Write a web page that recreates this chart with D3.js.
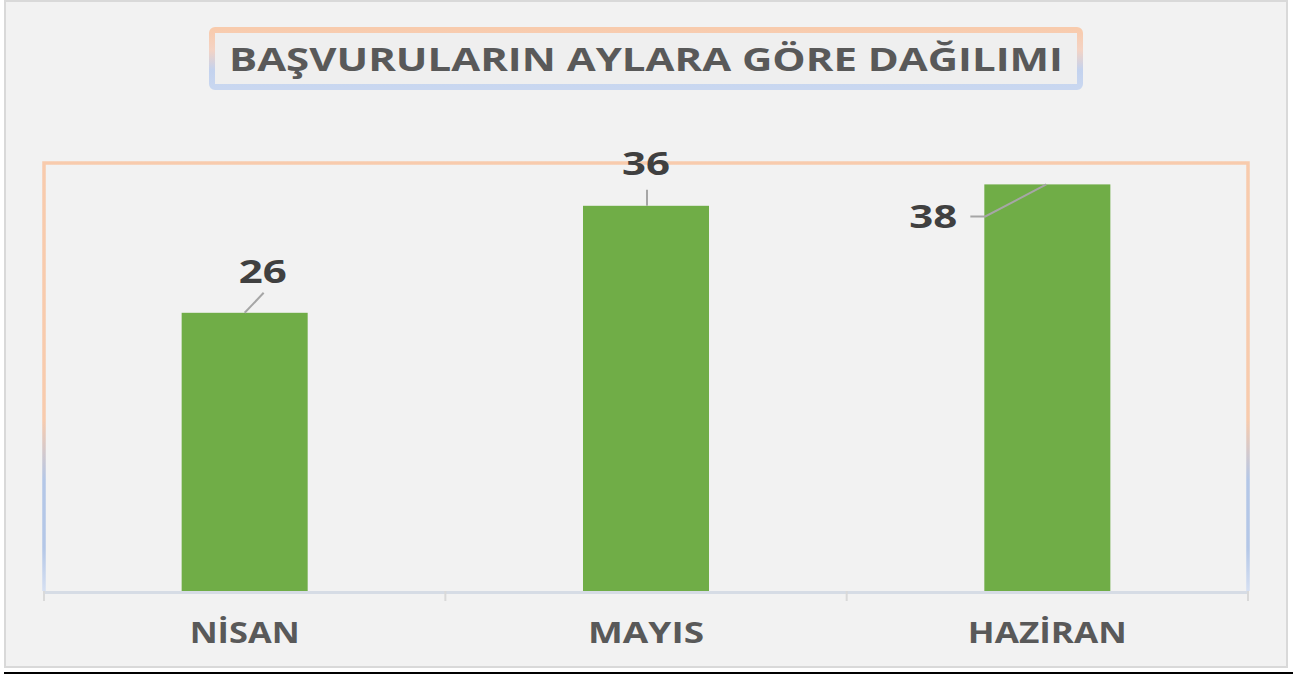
<!DOCTYPE html>
<html>
<head>
<meta charset="utf-8">
<script src="https://cdn.jsdelivr.net/npm/d3@7"></script>
<style>
  body { margin: 0; background: #ffffff; }
  text { font-family: "Open Sans", "DejaVu Sans", sans-serif; font-weight: bold; }
</style>
</head>
<body>
<div id="chart"></div>
<script>
// data
var months = ["NİSAN", "MAYIS", "HAZİRAN"]
var counts = [26, 36, 38]
var yMax = 40
var title = "BAŞVURULARIN AYLARA GÖRE DAĞILIMI"

// label placement (offset from bar top centre)
var labelDx = [18, 0, -114]
var labelDy = [-30, -31, 44]

var W = 1293, H = 674
var plot = {left: 44, right: 1248, top: 163, bottom: 591}

var svg = d3.select("#chart").append("svg")
    .attr("width", W)
    .attr("height", H)

var defs = svg.append("defs")
var g1 = defs.append("linearGradient").attr("id", "plotGrad")
    .attr("gradientUnits", "userSpaceOnUse")
    .attr("x1", 0).attr("x2", 0).attr("y1", plot.top).attr("y2", plot.bottom)
g1.append("stop").attr("offset", "0").attr("stop-color", "#f8cbad")
g1.append("stop").attr("offset", "0.6").attr("stop-color", "#f8cbad")
g1.append("stop").attr("offset", "0.74").attr("stop-color", "#b4c7e7")
g1.append("stop").attr("offset", "0.9").attr("stop-color", "#b4c7e7")
g1.append("stop").attr("offset", "1").attr("stop-color", "#d6e0f2")

var g2 = defs.append("linearGradient").attr("id", "titleGrad")
    .attr("x1", 0).attr("x2", 0).attr("y1", 0).attr("y2", 1)
g2.append("stop").attr("offset", "0").attr("stop-color", "#f8cbad")
g2.append("stop").attr("offset", "0.35").attr("stop-color", "#f4d3c4")
g2.append("stop").attr("offset", "0.7").attr("stop-color", "#c3d2ee")
g2.append("stop").attr("offset", "1").attr("stop-color", "#c9d7f0")

// chart background
svg.append("rect")
    .attr("x", 5).attr("y", 1)
    .attr("width", 1282).attr("height", 666)
    .attr("fill", "#f2f2f2")
    .attr("stroke", "#d9d9d9")
    .attr("stroke-width", 2)

svg.append("line")
    .attr("x1", 4).attr("x2", W)
    .attr("y1", 673).attr("y2", 673)
    .attr("stroke", "#000").attr("stroke-width", 2)

// title box
svg.append("rect")
    .attr("x", 212).attr("y", 30)
    .attr("width", 868).attr("height", 57)
    .attr("rx", 3)
    .attr("fill", "#efefef")
    .attr("stroke", "url(#titleGrad)")
    .attr("stroke-width", 6)

svg.append("text")
    .attr("x", 646).attr("y", 71)
    .attr("text-anchor", "middle")
    .attr("textLength", 834)
    .attr("lengthAdjust", "spacingAndGlyphs")
    .style("font-size", "32px")
    .attr("fill", "#595959")
    .text(title)

// scales
var x = d3.scaleBand()
    .domain(months)
    .range([plot.left, plot.right])
    .paddingInner(0.686)
    .paddingOuter(0.343)

var y = d3.scaleLinear()
    .domain([0, yMax])
    .range([plot.bottom, plot.top])

// plot area frame (left, top, right)
svg.append("path")
    .attr("d", "M" + plot.left + "," + plot.bottom + "V" + plot.top + "H" + plot.right + "V" + plot.bottom)
    .attr("fill", "none")
    .attr("stroke", "url(#plotGrad)")
    .attr("stroke-width", 3.5)

// bars
svg.selectAll(".bar").data(counts)
    .enter().append("rect")
    .attr("class", "bar")
    .attr("x", function(d, i) { return x(months[i]) })
    .attr("width", x.bandwidth())
    .attr("y", function(d) { return y(d) })
    .attr("height", function(d) { return y(0) - y(d) })
    .attr("fill", "#70ad47")

// axis line + boundary ticks
var bounds = months.map(function(m) { return x(m) - x.step() * x.paddingInner() / 2 })
bounds.push(plot.right)
svg.append("line")
    .attr("x1", plot.left).attr("x2", plot.right)
    .attr("y1", plot.bottom + 1.5).attr("y2", plot.bottom + 1.5)
    .attr("stroke", "#d6dce5").attr("stroke-width", 3)
svg.selectAll(".tick").data(bounds)
    .enter().append("line")
    .attr("class", "tick")
    .attr("x1", function(d) { return d }).attr("x2", function(d) { return d })
    .attr("y1", plot.bottom).attr("y2", plot.bottom + 10)
    .attr("stroke", "#d9d9d9").attr("stroke-width", 2)

// category labels
var catWidth = [110, 116, 159]
svg.selectAll(".cat").data(months)
    .enter().append("text")
    .attr("class", "cat")
    .attr("x", function(d) { return x(d) + x.bandwidth() / 2 })
    .attr("y", 643)
    .attr("text-anchor", "middle")
    .attr("textLength", function(d, i) { return catWidth[i] })
    .attr("lengthAdjust", "spacingAndGlyphs")
    .style("font-size", "28px")
    .attr("fill", "#595959")
    .text(function(d) { return d })

// leader lines
function leader(d, i) {
    var cx = x(months[i]) + x.bandwidth() / 2, top = y(d)
    if (i == 0) return [[cx + 19, top - 20], [cx, top]]
    if (i == 1) return [[cx + 1, top - 16], [cx + 1, top]]
    return [[cx - 77, top + 32], [cx - 62, top + 32], [cx - 1, top]]
}
svg.selectAll(".leader").data(counts)
    .enter().append("path")
    .attr("class", "leader")
    .attr("d", function(d, i) { return d3.line()(leader(d, i)) })
    .attr("fill", "none")
    .attr("stroke", "#a6a6a6")
    .attr("stroke-width", 2)

// value labels
svg.selectAll(".val").data(counts)
    .enter().append("text")
    .attr("class", "val")
    .attr("x", function(d, i) { return x(months[i]) + x.bandwidth() / 2 + labelDx[i] })
    .attr("y", function(d, i) { return y(d) + labelDy[i] })
    .attr("text-anchor", "middle")
    .attr("textLength", 48)
    .attr("lengthAdjust", "spacingAndGlyphs")
    .style("font-size", "32px")
    .attr("fill", "#404040")
    .text(function(d) { return d })
</script>
</body>
</html>
